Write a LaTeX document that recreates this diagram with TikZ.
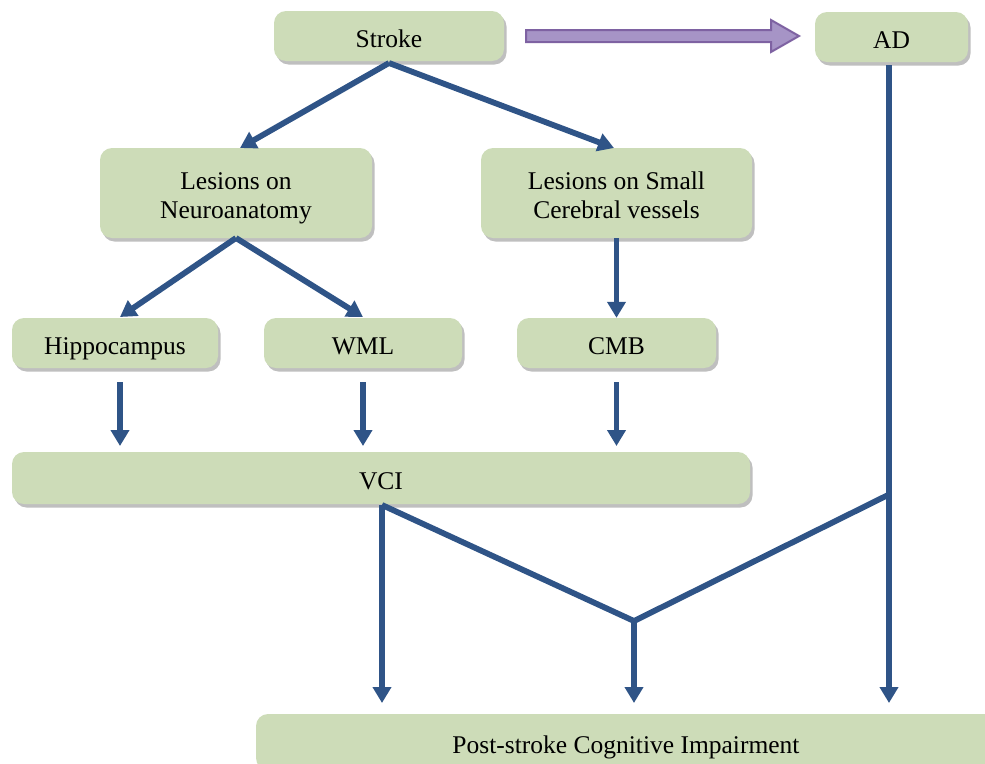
\documentclass[tikz,border=0pt]{standalone}
\usepackage{fontspec}
\setmainfont{Liberation Serif}
\usetikzlibrary{arrows.meta,shadows}
\definecolor{boxgreen}{RGB}{205,220,184}
\definecolor{lineblue}{RGB}{47,84,135}
\definecolor{purplefill}{RGB}{166,148,198}
\definecolor{purpleline}{RGB}{126,98,162}
\begin{document}
\begin{tikzpicture}[x=1pt,y=-1pt,
  box/.style={fill=boxgreen, draw=none, rounded corners=12pt,
    drop shadow={shadow xshift=2.5pt,shadow yshift=-3.5pt,fill=black,opacity=0.25},
    font=\fontsize{25.5}{29}\selectfont, align=center, inner sep=0pt},
  onebox/.style={box, text height=22.5pt, text depth=0pt},
  conn/.style={draw=lineblue, line width=5.8pt, -{Triangle[width=18pt,length=16pt]}},
  seg/.style={draw=lineblue, line width=5.8pt, line join=miter}]
\useasboundingbox (0,0) rectangle (985,763);
\clip (0,0) rectangle (985,763);

% boxes
\node[onebox, minimum width=230pt, minimum height=50pt] (stroke) at (389,36) {Stroke};
\node[onebox, minimum width=153pt, minimum height=50pt] (ad) at (891.5,37) {AD};
\node[box, minimum width=272pt, minimum height=90pt] (lesn) at (236,193)
  {\raisebox{-5pt}[\height][\depth]{\begin{tabular}{@{}c@{}}Lesions on\\Neuroanatomy\end{tabular}}};
\node[box, minimum width=271pt, minimum height=90pt] (less) at (616.5,193)
  {\raisebox{-5pt}[\height][\depth]{\begin{tabular}{@{}c@{}}Lesions on Small\\Cerebral vessels\end{tabular}}};
\node[onebox, minimum width=206pt, minimum height=50pt] (hip) at (115,343) {Hippocampus};
\node[onebox, minimum width=198pt, minimum height=50pt] (wml) at (363,343) {WML};
\node[onebox, minimum width=199pt, minimum height=50pt] (cmb) at (616.5,343) {CMB};
\node[onebox, minimum width=738pt, minimum height=52pt] (vci) at (381,478) {VCI};
\node[onebox, minimum width=740pt, minimum height=56pt] (psci) at (626,742) {Post-stroke Cognitive Impairment};

% purple arrow Stroke -> AD
\filldraw[fill=purplefill, draw=purpleline, line width=2pt, line join=miter]
  (526,30) -- (771,30) -- (771,20) -- (799,36) -- (771,52) -- (771,42) -- (526,42) -- cycle;

% coordinates
\coordinate (s0) at (389,63);
\coordinate (n0) at (236,238);
\coordinate (j1) at (634,621);
\coordinate (j2) at (888,495);
\coordinate (v0) at (382,505);

% connectors
\draw[conn] (s0) -- (240,148);
\draw[conn] (s0) -- (614,148);
\draw[conn] (n0) -- (120,317);
\draw[conn] (n0) -- (363,317);
\draw[conn] (less.south -| cmb.north) -- (cmb.north);
\draw[conn] (120,382) -- (120,446);
\draw[conn] (363,382) -- (363,446);
\draw[conn] (616.5,382) -- (616.5,446);
\draw[conn] (v0) -- (382,703);
\draw[seg] (v0) -- (j1) -- (j2);
\draw[conn] (j1) -- (634,703);
\draw[conn] (889,65) -- (889,703);
\end{tikzpicture}
\end{document}
